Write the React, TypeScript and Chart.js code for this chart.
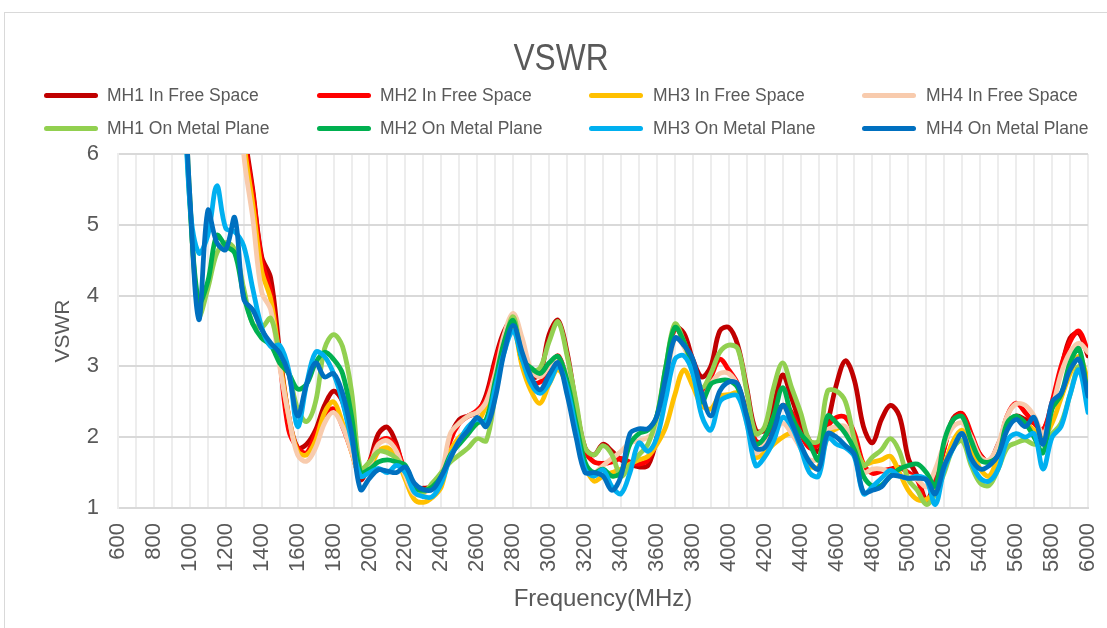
import React, { useEffect, useRef } from 'react';
import { Chart, registerables } from 'chart.js';

Chart.register(...registerables);

// Frequency sample points (MHz)
const FREQ = [
  950, 1000, 1050, 1100, 1150, 1200, 1250, 1300, 1350, 1400,
  1450, 1500, 1550, 1600, 1650, 1700, 1750, 1800, 1850, 1900,
  1950, 2000, 2050, 2100, 2150, 2200, 2250, 2300, 2350, 2400,
  2450, 2500, 2550, 2600, 2650, 2700, 2750, 2800, 2850, 2900,
  2950, 3000, 3050, 3100, 3150, 3200, 3250, 3300, 3350, 3400,
  3450, 3500, 3550, 3600, 3650, 3700, 3750, 3800, 3850, 3900,
  3950, 4000, 4050, 4100, 4150, 4200, 4250, 4300, 4350, 4400,
  4450, 4500, 4550, 4600, 4650, 4700, 4750, 4800, 4850, 4900,
  4950, 5000, 5050, 5100, 5150, 5200, 5250, 5300, 5350, 5400,
  5450, 5500, 5550, 5600, 5650, 5700, 5750, 5800, 5850, 5900,
  5950, 6000,
];

const MH1_FREE = [
  null, null, null, null, null, null, 8.0, 6.4, 5.5, 4.55,
  4.25, 3.2, 2.3, 1.85, 1.9, 2.1, 2.45, 2.65, 2.5, 1.95,
  1.4, 1.65, 2.05, 2.14, 1.9, 1.45, 1.28, 1.28, 1.3, 1.4,
  2.0, 2.25, 2.3, 2.35, 2.6, 3.1, 3.5, 3.66, 3.3, 2.85,
  2.9, 3.45, 3.65, 3.2, 2.45, 1.85, 1.75, 1.9, 1.8, 1.68,
  1.62, 1.58, 1.6, 2.0, 2.85, 3.55, 3.47, 3.1, 2.85, 3.0,
  3.5, 3.55, 3.3, 2.7, 2.1, 2.1, 2.45, 2.88, 2.55, 2.2,
  1.95, 1.8, 2.2, 2.75, 3.08, 2.8, 2.15, 1.92, 2.25, 2.45,
  2.3, 1.7, 1.45, 1.12, 1.4, 1.85, 2.27, 2.33, 1.95, 1.75,
  1.65, 1.9, 2.15, 2.3, 2.25, 2.2, 2.1, 2.45, 2.95, 3.4,
  3.47, 3.15,
];

const MH2_FREE = [
  null, null, null, null, null, null, 8.0, 6.3, 5.45, 4.5,
  4.05, 3.1, 2.1, 1.85, 1.78, 2.05, 2.3, 2.4, 2.15, 1.8,
  1.45, 1.65, 1.92, 1.98, 1.85, 1.5, 1.25, 1.25, 1.3, 1.4,
  1.95, 2.2, 2.3, 2.38, 2.55, 3.05, 3.45, 3.6, 3.05, 2.78,
  2.78, 2.95, 3.15, 2.8, 2.2, 1.8, 1.65, 1.63, 1.65, 1.7,
  1.65, 1.62, 1.68, 2.0, 2.85, 3.55, 3.35, 2.95, 2.62, 2.85,
  3.1, 2.95, 2.75, 2.35, 1.95, 1.95, 2.2, 2.45, 2.35, 2.05,
  1.85, 1.9, 2.15, 2.28, 2.28, 2.05, 1.62, 1.49, 1.52, 1.55,
  1.57, 1.5, 1.4, 1.07, 1.35, 1.85, 2.25, 2.33, 2.05, 1.75,
  1.65, 1.85, 2.3, 2.48, 2.35, 2.2, 2.1, 2.5, 3.0, 3.35,
  3.5, 3.2,
];

const MH3_FREE = [
  null, null, null, null, null, null, 8.0, 6.2, 5.3, 4.35,
  3.95, 3.1, 2.3, 1.8, 1.75, 1.95, 2.35, 2.5, 2.2, 1.8,
  1.45, 1.55, 1.8, 1.85, 1.7, 1.4, 1.12, 1.08, 1.15, 1.3,
  1.8, 2.0, 2.1, 2.2, 2.45, 2.85, 3.3, 3.55, 3.0, 2.65,
  2.48, 2.75, 2.95, 2.7, 2.1, 1.6, 1.38, 1.45, 1.5, 1.55,
  1.62, 1.68, 1.73, 1.9, 2.15, 2.6, 2.95, 2.72, 2.45, 2.4,
  2.58, 2.6, 2.62, 2.3, 1.72, 1.78, 1.9, 2.0, 2.05, 1.85,
  1.6, 1.58, 2.0, 2.12, 2.12, 1.9, 1.62, 1.65, 1.68, 1.73,
  1.5, 1.25, 1.12, 1.12, 1.25, 1.6, 1.95, 2.1, 1.85, 1.55,
  1.45, 1.75, 2.15, 2.25, 2.2, 2.1, 2.0, 2.2, 2.55, 2.9,
  3.14, 2.8,
];

const MH4_FREE = [
  null, null, null, null, null, null, 8.0, 6.0, 5.1, 4.05,
  3.8, 3.0, 2.3, 1.75, 1.66, 1.85, 2.2, 2.35, 2.15, 1.8,
  1.45, 1.6, 1.9, 1.95, 1.8, 1.45, 1.2, 1.2, 1.35, 1.5,
  2.05, 2.2, 2.3, 2.35, 2.5, 2.9, 3.45, 3.75, 3.4, 2.95,
  2.85, 3.0, 3.1, 2.85, 2.2, 1.6, 1.5, 1.6, 1.7, 1.8,
  1.92, 1.95, 2.0, 2.1, 2.7, 3.4, 3.28, 2.9, 2.55, 2.75,
  2.9, 2.9, 2.72, 2.2, 1.78, 1.9, 2.05, 2.2, 2.05, 1.85,
  1.68, 1.7, 2.1, 2.15, 2.15, 1.85, 1.5, 1.55, 1.55, 1.5,
  1.45, 1.45, 1.4, 1.3, 1.55, 1.9, 2.15, 2.2, 2.0, 1.72,
  1.68, 1.9, 2.3, 2.47, 2.45, 2.3, 2.05, 2.4, 2.9, 3.2,
  3.33, 3.2,
];

const MH1_METAL = [
  8.0, 5.4, 3.72, 4.1, 4.6, 4.75, 4.65, 4.1, 3.6, 3.55,
  3.68, 3.2, 2.9, 2.4, 2.22, 2.5, 3.25, 3.45, 3.28, 2.65,
  1.55, 1.65, 1.8, 1.78, 1.7, 1.5, 1.25, 1.22, 1.35, 1.5,
  1.65, 1.75, 1.85, 1.98, 1.95, 2.6, 3.3, 3.7, 3.15, 2.95,
  2.98, 3.35, 3.63, 3.15, 2.5, 1.85, 1.75, 1.88, 1.75, 1.45,
  1.6, 1.75, 1.9, 2.3, 3.0, 3.6, 3.35, 2.95, 2.7, 2.9,
  3.2, 3.3, 3.25, 2.65, 2.05, 2.15, 2.7, 3.05, 2.7, 2.35,
  1.95, 1.95, 2.65, 2.65, 2.5, 1.96, 1.6, 1.72, 1.82, 1.98,
  1.8, 1.4, 1.25, 1.05, 1.2, 1.5, 1.85, 1.95, 1.6, 1.35,
  1.32, 1.55, 1.85, 1.92, 1.96, 1.9, 1.95, 2.05, 2.2, 2.6,
  3.0, 2.5,
];

const MH2_METAL = [
  8.0, 5.3, 3.9, 4.2, 4.85, 4.7, 4.6, 4.0, 3.6, 3.4,
  3.3, 3.05, 2.9, 2.68, 2.75, 3.05, 3.2, 3.1, 2.9, 2.3,
  1.5, 1.55, 1.65, 1.68, 1.65, 1.6, 1.3, 1.25, 1.3, 1.45,
  1.75, 1.9, 2.05, 2.2, 2.25, 2.8, 3.35, 3.65, 3.1, 2.98,
  2.9, 3.05, 3.14, 2.8, 2.2, 1.65, 1.5, 1.55, 1.45, 1.5,
  1.9, 2.05, 2.1, 2.3, 3.0, 3.55, 3.35, 3.0, 2.5, 2.75,
  2.8, 2.8, 2.7, 2.3, 1.9, 2.0, 2.3, 2.7, 2.3, 2.05,
  1.9, 1.68, 2.3, 2.2, 2.05, 1.82, 1.45, 1.31, 1.32, 1.45,
  1.55, 1.6, 1.62, 1.5, 1.31, 1.95, 2.25, 2.29, 1.95, 1.68,
  1.65, 1.75, 2.2, 2.3, 2.2, 2.0, 1.78, 2.4, 2.6, 3.05,
  3.25, 2.55,
];

const MH3_METAL = [
  8.0, 5.3, 4.6, 4.85, 5.55, 4.95, 4.9, 4.7, 4.1, 3.55,
  3.28, 3.3, 2.95, 2.15, 2.75, 3.2, 3.14, 2.9, 2.5, 1.96,
  1.45, 1.5, 1.56, 1.5, 1.6, 1.5, 1.22, 1.16, 1.16, 1.35,
  1.72, 1.95, 2.15, 2.25, 2.2, 2.7, 3.2, 3.5, 3.1, 2.75,
  2.62, 2.76, 3.0, 2.7, 2.1, 1.55, 1.45, 1.54, 1.3, 1.2,
  1.5, 1.92, 1.8, 2.0, 2.55, 3.1, 3.15, 2.9, 2.3, 2.1,
  2.5, 2.58, 2.58, 2.2, 1.6, 1.72, 1.95, 2.28, 2.15, 1.85,
  1.5, 1.45, 2.0, 1.9, 1.85, 1.72, 1.2, 1.3, 1.42, 1.53,
  1.45, 1.42, 1.45, 1.4, 1.05, 1.55, 1.85, 2.05, 1.65, 1.42,
  1.38, 1.55, 1.95, 2.05, 2.0, 2.05, 1.55, 2.0, 2.15, 2.6,
  2.95, 2.35,
];

const MH4_METAL = [
  8.0, 5.4, 3.66, 5.2, 4.75, 4.65, 5.1, 3.95, 3.8, 3.52,
  3.33, 3.19, 2.9, 2.3, 2.75, 3.05, 2.85, 2.9, 2.62, 2.06,
  1.26, 1.42, 1.54, 1.52, 1.5, 1.58, 1.35, 1.26, 1.26, 1.45,
  1.7, 1.95, 2.1, 2.28, 2.15, 2.55, 3.2, 3.58, 3.2, 2.85,
  2.67, 2.88, 3.05, 2.6, 2.0, 1.5, 1.5, 1.45, 1.25, 1.45,
  2.05, 2.12, 2.12, 2.3, 2.85, 3.4, 3.3, 3.1, 2.62, 2.3,
  2.65, 2.78, 2.75, 2.3, 1.85, 1.85, 2.1, 2.45, 2.2, 1.9,
  1.65, 1.55, 2.05, 2.0, 1.88, 1.75, 1.22, 1.25, 1.3, 1.45,
  1.45, 1.42, 1.42, 1.4, 1.2, 1.6, 1.85, 2.05, 1.7, 1.55,
  1.6, 1.75, 2.1, 2.25, 2.15, 2.28, 1.9, 2.5, 2.62, 2.95,
  3.1, 2.58,
];

const LABELS = [
  'MH1 In Free Space', 'MH2 In Free Space', 'MH3 In Free Space', 'MH4 In Free Space',
  'MH1 On Metal Plane', 'MH2 On Metal Plane', 'MH3 On Metal Plane', 'MH4 On Metal Plane',
];
const COLORS = ['#C00000', '#FF0000', '#FFC000', '#F8CBAD', '#92D050', '#00B050', '#00B0F0', '#0070C0'];
const VALUES = [MH1_FREE, MH2_FREE, MH3_FREE, MH4_FREE, MH1_METAL, MH2_METAL, MH3_METAL, MH4_METAL];

const X_MIN = 600;
const X_MAX = 6000;
const Y_MIN = 1;
const Y_MAX = 6;

const TEXT = '#595959';
const FONT = "'Liberation Sans', Arial, sans-serif";

export default function App() {
  const ref = useRef<HTMLCanvasElement>(null);

  useEffect(() => {
    if (!ref.current) return;
    const chart = new Chart(ref.current, {
      type: 'line',
      data: {
        datasets: VALUES.map((vals, i) => ({
          label: LABELS[i],
          data: FREQ.map((f, j) => ({ x: f, y: vals[j] })),
          borderColor: COLORS[i],
          backgroundColor: COLORS[i],
          borderWidth: 4.8,
          pointRadius: 0,
          pointHoverRadius: 0,
          tension: 0.35,
          fill: false,
          order: 7 - i,
          borderCapStyle: 'round',
          borderJoinStyle: 'round',
        })),
      },
      options: {
        responsive: false,
        animation: false,
        events: [],
        layout: { padding: { left: 0, top: 154, right: 19, bottom: 0 } },
        plugins: {
          legend: { display: false },
          title: { display: false },
          tooltip: { enabled: false },
        },
        scales: {
          x: {
            type: 'linear',
            min: X_MIN,
            max: X_MAX,
            afterFit: (s: any) => { s.height = 120; s.paddingLeft = 0; s.paddingRight = 0; },
            ticks: {
              stepSize: 100,
              autoSkip: false,
              minRotation: 90,
              maxRotation: 90,
              padding: 15,
              color: TEXT,
              font: { family: FONT, size: 22 },
              callback: (v: any) => (Number(v) % 200 === 0 ? String(v) : ''),
            },
            grid: { color: '#EDEDED', lineWidth: 2, drawTicks: false },
            border: { color: '#D9D9D9', width: 2 },
            title: {
              display: true,
              text: 'Frequency(MHz)',
              color: TEXT,
              font: { family: FONT, size: 24 },
              padding: { top: 0, bottom: 14 },
            },
          },
          y: {
            min: Y_MIN,
            max: Y_MAX,
            afterFit: (s: any) => { s.width = 118; },
            ticks: {
              stepSize: 1,
              padding: 19,
              color: TEXT,
              font: { family: FONT, size: 22 },
            },
            grid: { color: '#D9D9D9', lineWidth: 2, drawTicks: false },
            border: { color: '#EDEDED', width: 2 },
            title: {
              display: true,
              text: 'VSWR',
              color: TEXT,
              font: { family: FONT, size: 21 },
              padding: { top: 51, bottom: 0 },
            },
          },
        },
      },
    } as any);
    return () => chart.destroy();
  }, []);

  return (
    <div style={{ position: 'fixed', left: 0, top: 0, width: 1107, height: 628, overflow: 'hidden', background: '#fff' }}>
      <div style={{ position: 'absolute', left: 4, top: 12, width: 1130, height: 640, border: '1px solid #D9D9D9', boxSizing: 'border-box' }} />
      <canvas ref={ref} width={1107} height={628} style={{ position: 'absolute', left: 0, top: 0, display: 'block' }} />
      <div
        style={{
          position: 'absolute', left: 561, top: 40, fontFamily: FONT, fontSize: 36, lineHeight: '36px',
          color: TEXT, whiteSpace: 'nowrap', transform: 'translateX(-50%) scaleX(0.88)',
        }}
      >
        VSWR
      </div>
      {LABELS.map((lab, i) => {
        const col = i % 4;
        const row = Math.floor(i / 4);
        const cy = row === 0 ? 95 : 128;
        return (
          <React.Fragment key={lab}>
            <div
              style={{
                position: 'absolute', left: 44 + col * 272.7, top: cy - 2.5, width: 54, height: 5,
                borderRadius: 2.5, background: COLORS[i],
              }}
            />
            <div
              style={{
                position: 'absolute', left: 107 + col * 273, top: cy - 10, fontFamily: FONT, fontSize: 17.5,
                lineHeight: '20px', color: TEXT, whiteSpace: 'nowrap',
              }}
            >
              {lab}
            </div>
          </React.Fragment>
        );
      })}
    </div>
  );
}
